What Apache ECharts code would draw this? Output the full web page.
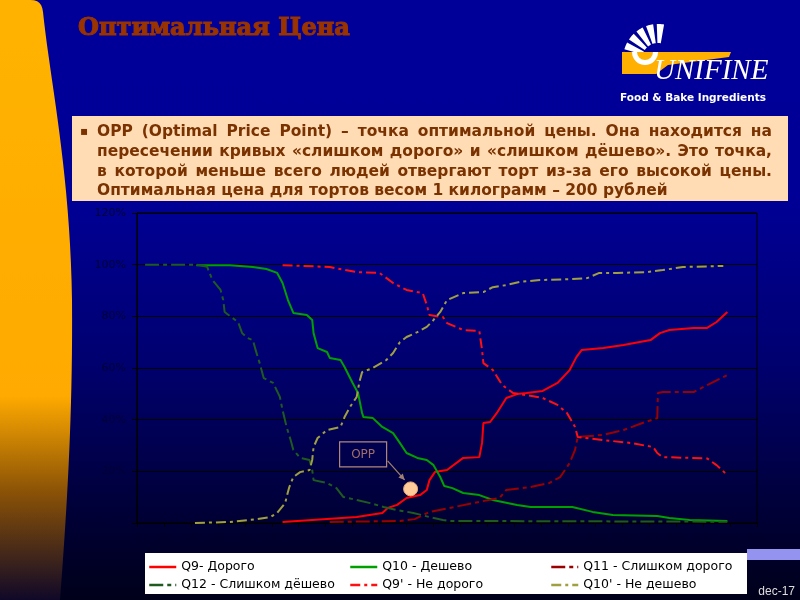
<!DOCTYPE html>
<html><head><meta charset="utf-8">
<script src="https://cdn.jsdelivr.net/npm/echarts@6/dist/echarts.min.js"></script>
<style>
html,body{margin:0;padding:0;background:#000033;}
#c{width:800px;height:600px;background:linear-gradient(to bottom,#000099 0%,#000096 33%,#000070 60%,#000038 85%,#00001a 100%);}
</style>
</head><body><div id="c"></div>
<script>
// ---- tick labels ----
const priceTicks = [0,20,40,60,80,100,120,140,160,180,200,220,240,260,280,300,320,340,360,380,400,420,440,460];
const pctTicks = [0,20,40,60,80,100,120];

// ---- series names ----
const names = ['Q9- Дорого','Q10 - Дешево','Q11 - Слишком дорого','Q12 - Слишком дёшево',"Q9' - Не дорого","Q10' - Не дешево"];

// ---- series values [price, %] ----
const q9 = [[108,0.4],[163,2.3],[182,3.9],[186,5.8],[193,7.0],[200,9.7],[210,10.8],[215,12.8],[217,16.6],[221,19.7],[230,20.5],[242,25.2],[254,25.5],[256,31.0],[257,38.7],[262,39.1],[267,42.6],[274,48.4],[282,49.9],[289,50.3],[301,51.1],[312,54.2],[321,59.2],[326,64.2],[330,67.0],[346,67.7],[361,68.9],[381,70.8],[388,73.5],[395,74.7],[413,75.5],[423,75.5],[430,77.8],[438,81.7]];
const q10 = [[44,99.8],[69,99.8],[86,99.1],[96,98.3],[104,96.8],[108,92.9],[112,86.3],[116,81.3],[126,80.5],[130,78.6],[131,73.5],[134,67.7],[141,66.2],[143,63.9],[151,63.1],[154,60.4],[160,54.2],[164,50.3],[167,42.6],[168,41.0],[175,40.6],[182,37.2],[190,34.8],[195,31.0],[200,27.1],[208,25.2],[215,24.4],[220,22.4],[225,17.8],[228,14.3],[234,13.5],[242,11.6],[254,10.8],[264,8.9],[282,7.0],[292,6.2],[323,6.2],[338,4.3],[353,3.1],[386,2.7],[395,1.9],[410,1.2],[438,0.8]];
const q11 = [[143,0.4],[195,0.8],[206,1.5],[217,4.3],[232,5.8],[249,7.7],[269,9.7],[274,12.8],[292,13.9],[306,15.5],[314,17.8],[321,23.2],[325,28.3],[327,33.3],[346,34.1],[361,36.0],[375,38.7],[386,40.6],[386.5,50.3],[390,50.7],[413,50.7],[423,53.4],[438,57.3]];
const q12 = [[6,100],[44,100],[52,99.2],[56,94.0],[62,90.2],[64,86.3],[65,81.7],[71,79.3],[75,77.8],[78,73.5],[82,71.6],[86,70.8],[88,67.0],[91,61.9],[94,56.1],[101,54.2],[106,48.8],[108,43.7],[111,37.2],[114,32.1],[116,28.3],[121,25.2],[128,24.4],[130,20.5],[131,16.6],[141,15.5],[148,13.5],[153,10.1],[163,8.9],[173,7.7],[183,6.2],[193,5.0],[205,3.9],[217,2.3],[227,1.2],[232,0.8],[438,0.5]];
const q9n = [[108,99.8],[143,99.1],[163,97.1],[180,96.8],[190,92.9],[200,90.2],[212,89.0],[215,84.4],[217,80.5],[227,79.7],[230,77.4],[242,74.7],[254,74.3],[256,67.0],[257,61.9],[264,59.2],[271,53.4],[279,50.3],[289,49.5],[301,48.4],[312,45.7],[319,42.6],[325,37.2],[327,33.3],[346,32.1],[366,31.0],[383,29.4],[386,27.1],[390,25.5],[410,25.2],[423,25.0],[430,22.4],[438,18.6]];
const q10n = [[43,0],[69,0.4],[89,1.5],[99,2.3],[104,3.9],[110,7.7],[111,10.1],[113,13.9],[116,17.8],[121,19.7],[128,20.5],[130,24.4],[131,29.4],[134,32.9],[141,36.0],[151,37.2],[154,41.0],[158,44.9],[163,48.8],[165,54.6],[167,58.4],[175,60.0],[185,63.1],[190,65.8],[195,70.0],[200,72.0],[208,73.9],[215,75.9],[220,78.6],[225,81.7],[230,86.3],[242,89.0],[257,89.4],[264,91.3],[274,92.1],[284,93.3],[297,94.0],[321,94.4],[334,94.8],[343,96.8],[356,96.8],[378,97.1],[390,97.9],[405,99.1],[435,99.5]];
const opp = [203, 13.2];

// ---- texts ----
const titleText = 'Оптимальная Цена';
const bodyLines = [
  'OPP (Optimal Price Point) – точка оптимальной цены. Она находится на',
  'пересечении кривых «слишком дорого» и «слишком дёшево». Это точка,',
  'в которой меньше всего людей отвергают торт из-за его высокой цены.',
  'Оптимальная цена для тортов весом 1 килограмм – 200 рублей'
];

const mctx = document.createElement('canvas').getContext('2d');
function tw(str, font){ mctx.font = font; return mctx.measureText(str).width; }

function bez(p0,p1,p2,p3,n){
  const out=[];
  for(let i=0;i<=n;i++){const t=i/n,u=1-t;
    out.push([u*u*u*p0[0]+3*u*u*t*p1[0]+3*u*t*t*p2[0]+t*t*t*p3[0], u*u*u*p0[1]+3*u*u*t*p1[1]+3*u*t*t*p2[1]+t*t*t*p3[1]]);}
  return out;
}

const chart = echarts.init(document.getElementById('c'));

function buildGraphics(oppPx){
  const g = [];
  // orange left shape
  let pts = [[0,0],[30,0]];
  pts = pts.concat(bez([30,0],[39,0],[42,4],[43,12],6).slice(1));
  pts = pts.concat(bez([43,12],[50,80],[70,170],[72,300],20).slice(1));
  pts = pts.concat(bez([72,300],[73,420],[66,520],[60,600],20).slice(1));
  pts.push([0,600]);
  g.push({type:'polygon', shape:{points:pts},
    style:{fill:new echarts.graphic.LinearGradient(0,0,0,1,[
      {offset:0,color:'#FFB300'},{offset:0.66,color:'#FFAA00'},{offset:0.82,color:'#8a5206'},{offset:1,color:'#100828'}])}});
  // title
  const tFam = '"DejaVu Serif", serif';
  let tSize = 24; const tw0 = tw(titleText, 'bold '+tSize+'px '+tFam); tSize = tSize*272/tw0;
  g.push({type:'text', x:78, y:29, style:{text:titleText, font:'bold '+tSize.toFixed(2)+'px '+tFam, fill:'#993300', stroke:'#993300', lineWidth:1.1, verticalAlign:'middle', align:'left'}});
  // logo
  const cx=658, cy=59;
  [[80,92],[98,110],[116,128],[134,146],[152,164],[168,180]].forEach(a=>{
    const p=[]; const N=6;
    for(let i=0;i<=N;i++){const r=(a[0]+(a[1]-a[0])*i/N)*Math.PI/180; p.push([cx+35*Math.cos(r), cy-35*Math.sin(r)]);}
    for(let i=N;i>=0;i--){const r=(a[0]+(a[1]-a[0])*i/N)*Math.PI/180; p.push([cx+16*Math.cos(r), cy-16*Math.sin(r)]);}
    g.push({type:'polygon', shape:{points:p}, style:{fill:'#ffffff'}});
  });
  g.push({type:'polygon', shape:{points:[[622,52],[731,52],[729,57],[668,65],[656,74],[622,74]]}, style:{fill:'#FFB000'}});
  g.push({type:'sector', shape:{cx:645,cy:52,r:13,r0:8,startAngle:0,endAngle:Math.PI}, style:{fill:'#ffffff'}});
  g.push({type:'text', x:654, y:86, style:{text:'UNIFINE', font:'italic 29px "Liberation Serif", serif', fill:'#ffffff', verticalAlign:'bottom', align:'left'}});
  const fFam='"DejaVu Sans", sans-serif'; let fSize=11; fSize = fSize*146/tw('Food & Bake Ingredients','bold '+fSize+'px '+fFam);
  g.push({type:'text', x:620, y:98, style:{text:'Food & Bake Ingredients', font:'bold '+fSize.toFixed(2)+'px '+fFam, fill:'#ffffff', verticalAlign:'middle'}});
  // text box
  g.push({type:'rect', shape:{x:72,y:116,width:716,height:85}, style:{fill:'#FFDCB4'}});
  const bFam='"DejaVu Sans", sans-serif'; let bSize=15;
  bSize = bSize*571/tw(bodyLines[3],'bold '+bSize+'px '+bFam);
  const bFont='bold '+bSize.toFixed(2)+'px '+bFam;
  const bColor='#7a3300';
  g.push({type:'text', x:80, y:132, style:{text:'▪', font:'bold 12px '+bFam, fill:bColor, verticalAlign:'middle'}});
  const ys=[132,152,172,191];
  bodyLines.forEach((ln,i)=>{
    if(i===3){ g.push({type:'text', x:97, y:ys[i], style:{text:ln, font:bFont, fill:bColor, verticalAlign:'middle'}}); return; }
    const words = ln.split(' ');
    const ws = words.map(w=>tw(w,bFont));
    const tot = ws.reduce((a,b)=>a+b,0);
    const gap = (772-97-tot)/(words.length-1);
    let x=97;
    words.forEach((w,j)=>{ g.push({type:'text', x:x, y:ys[i], style:{text:w, font:bFont, fill:bColor, verticalAlign:'middle'}}); x+=ws[j]+gap; });
  });
  // legend box and decoration
  g.push({type:'rect', shape:{x:145,y:553,width:602,height:41}, style:{fill:'#ffffff'}});
  g.push({type:'rect', shape:{x:747,y:549,width:53,height:11}, style:{fill:'#9494f0'}});
  g.push({type:'text', x:795, y:592, style:{text:'dec-17', font:'12px "Liberation Sans", sans-serif', fill:'#dddddd', align:'right', verticalAlign:'middle'}});
  // OPP annotation
  if(oppPx){
    const bx=oppPx[0]-71, by=oppPx[1]-47;
    g.push({type:'rect', z:20, shape:{x:bx,y:by,width:47,height:25}, style:{fill:'none', stroke:'#b08878', lineWidth:1.2}});
    g.push({type:'text', z:20, x:bx+23.5, y:by+12.5, style:{text:'OPP', font:'12px "DejaVu Sans", sans-serif', fill:'#a06e66', align:'center', verticalAlign:'middle'}});
    const x1=bx+48, y1=by+19, x2=oppPx[0]-6, y2=oppPx[1]-9;
    g.push({type:'line', z:20, shape:{x1:x1,y1:y1,x2:x2,y2:y2}, style:{stroke:'#a08070', lineWidth:1.2}});
    const ang=Math.atan2(y2-y1,x2-x1), L=6, W=3;
    g.push({type:'polygon', z:20, shape:{points:[[x2,y2],[x2-L*Math.cos(ang)+W*Math.sin(ang), y2-L*Math.sin(ang)-W*Math.cos(ang)],[x2-L*Math.cos(ang)-W*Math.sin(ang), y2-L*Math.sin(ang)+W*Math.cos(ang)]]}, style:{fill:'#a08070'}});
  }
  return g;
}

const lg = (data,left)=>({data:data, left:left, top:560, orient:'vertical', itemWidth:27, itemHeight:12, itemGap:4, padding:0, selectedMode:false,
  itemStyle:{opacity:0}, lineStyle:{width:2.5},
  textStyle:{color:'#000000', fontSize:12.5, lineHeight:14, fontFamily:'"DejaVu Sans", sans-serif'}});

const mk = (name,data,color,type)=>({name:name, type:'line', data:data, symbol:'none', showSymbol:false, animation:false,
  lineStyle:{color:color, width:2, type:type||'solid'}, itemStyle:{color:color}});

const series = [
  mk(names[0], q9, '#ff0000'),
  mk(names[1], q10, '#00a000'),
  mk(names[2], q11, '#990000', [14,4,4,4]),
  mk(names[3], q12, '#1f5a1f', [14,4,4,4]),
  mk(names[4], q9n, '#ff1010', [10,4,3,4]),
  mk(names[5], q10n, '#a0a040', [10,4,3,4])
];
series[0].markPoint = {symbol:'circle', symbolSize:14, animation:false, label:{show:false},
  itemStyle:{color:'#FFCC99', borderColor:'#e8a878', borderWidth:1}, data:[{coord:opp}]};

const baseOption = {
  animation:false,
  grid:{left:137, right:43, top:213, bottom:77, show:true, borderColor:'#000000', borderWidth:1, backgroundColor:'transparent'},
  xAxis:{type:'value', min:priceTicks[0], max:priceTicks[priceTicks.length-1], interval:20,
    axisLine:{show:true, lineStyle:{color:'#000000'}}, axisTick:{show:true, length:4, lineStyle:{color:'#000000'}},
    axisLabel:{color:'#00002c', fontSize:10, margin:10, fontFamily:'"DejaVu Sans", sans-serif'}, splitLine:{show:false}},
  yAxis:{type:'value', min:pctTicks[0], max:pctTicks[pctTicks.length-1], interval:20,
    axisLine:{show:true, lineStyle:{color:'#000000'}}, axisTick:{show:true, length:5, lineStyle:{color:'#000000'}},
    axisLabel:{formatter:'{value}%', color:'#000038', fontSize:11, margin:11, fontFamily:'"DejaVu Sans", sans-serif'},
    splitLine:{show:true, lineStyle:{color:'#000000', width:1}}},
  legend:[lg([names[0],names[3]],148), lg([names[1],names[4]],349), lg([names[2],names[5]],550)],
  series:series
};
chart.setOption(baseOption);
const oppPx = chart.convertToPixel({gridIndex:0}, opp);
chart.setOption({graphic:{elements:buildGraphics(oppPx)}});
</script>
</body></html>
